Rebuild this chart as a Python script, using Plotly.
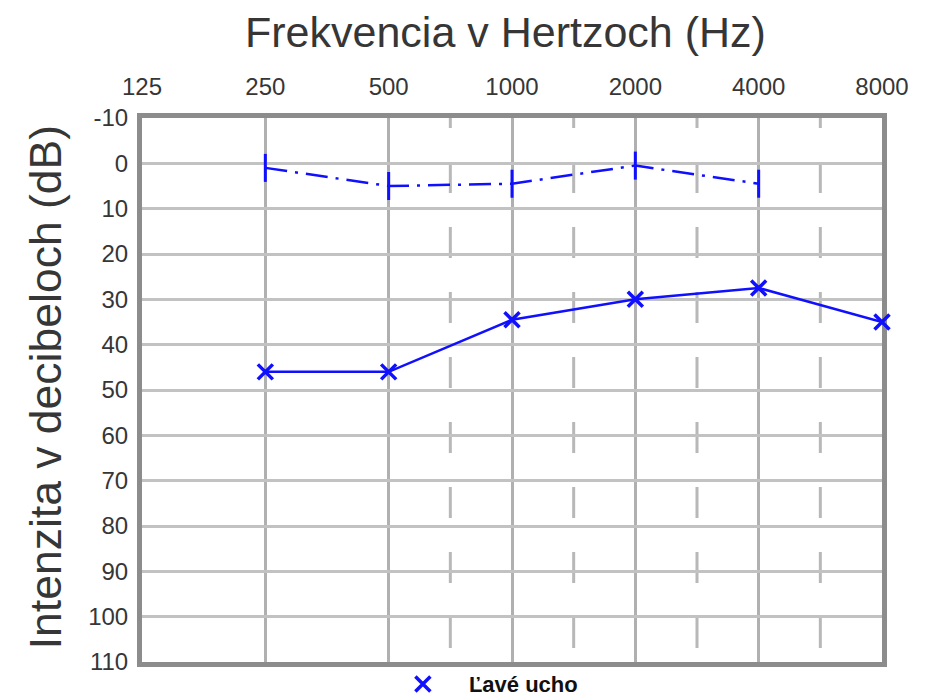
import plotly.graph_objects as go

# ---- data ----
freq_labels = ["125", "250", "500", "1000", "2000", "4000", "8000"]
db_ticks = [-10, 0, 10, 20, 30, 40, 50, 60, 70, 80, 90, 100, 110]

left_freqs = ["250", "500", "1000", "2000", "4000", "8000"]
left_db = [46, 46, 34.5, 30, 27.5, 35]

bone_freqs = ["250", "500", "1000", "2000", "4000"]
bone_db = [1, 5, 4.5, 0.5, 4.5]

half_octave_between = [("500", "1000"), ("1000", "2000"), ("2000", "4000"), ("4000", "8000")]

legend_name = "Ľavé ucho"
x_title = "Frekvencia v Hertzoch (Hz)"
y_title = "Intenzita v decibeloch (dB)"

pos = {f: i for i, f in enumerate(freq_labels)}
BLUE = "#1010ff"
TEXT = "#363636"

fig = go.Figure()

# dash-dot series with vertical bar markers
fig.add_trace(go.Scatter(
    x=[pos[f] for f in bone_freqs], y=bone_db,
    mode="lines+markers",
    line=dict(color=BLUE, width=2.5, dash="22px,8px,3px,8px"),
    marker=dict(symbol="line-ns", size=20, line=dict(color=BLUE, width=3)),
    showlegend=False, cliponaxis=False,
))

# solid series with X markers
fig.add_trace(go.Scatter(
    x=[pos[f] for f in left_freqs], y=left_db,
    mode="lines+markers",
    line=dict(color=BLUE, width=2.5),
    marker=dict(symbol="x-thin", size=15, line=dict(color=BLUE, width=3.5)),
    showlegend=False, cliponaxis=False,
))

# legend entry (marker only)
fig.add_trace(go.Scatter(
    x=[None], y=[None], mode="markers", name=legend_name,
    marker=dict(symbol="x-thin", size=15, line=dict(color=BLUE, width=3.5)),
    showlegend=True,
))

# dashed half-octave grid lines
for a, b in half_octave_between:
    xm = (pos[a] + pos[b]) / 2
    fig.add_shape(type="line", xref="x", yref="paper", x0=xm, x1=xm, y0=1, y1=0,
                  line=dict(color="#b8b8b8", width=3, dash="10px,34px,21px,0px"),
                  layer="below")

fig.add_annotation(text=x_title, xref="paper", yref="paper", x=0.491, y=1.158,
                   xanchor="center", yanchor="middle", showarrow=False,
                   font=dict(size=43, color=TEXT))
fig.add_annotation(text=y_title, xref="paper", yref="paper", x=-0.131, y=0.505,
                   xanchor="center", yanchor="middle", showarrow=False, textangle=-90,
                   font=dict(size=44.5, color=TEXT))

fig.update_layout(
    width=942, height=697,
    margin=dict(l=134, r=68, t=110, b=43, autoexpand=False),
    paper_bgcolor="white", plot_bgcolor="white",
    font=dict(family="Liberation Sans, Arial, sans-serif", color=TEXT),
    legend=dict(orientation="h", xref="container", yref="container",
                x=0.3916, xanchor="left", y=0.030, yanchor="middle",
                font=dict(family="Liberation Sans, Arial", size=22,
                          color="#111111", weight="bold"),
                bgcolor="rgba(0,0,0,0)", itemwidth=82),
    showlegend=True,
)

fig.update_xaxes(
    side="top", range=[0, len(freq_labels) - 1],
    tickmode="array", tickvals=list(range(len(freq_labels))), ticktext=freq_labels,
    tickfont=dict(size=24, color=TEXT),
    ticks="outside", ticklen=8, tickcolor="rgba(0,0,0,0)",
    showgrid=True, gridcolor="#b0b0b0", gridwidth=3,
    showline=True, mirror=True, linecolor="#8c8c8c", linewidth=5,
    zeroline=False, layer="below traces", automargin=False,
)

fig.update_yaxes(
    range=[db_ticks[-1], db_ticks[0]],
    tickmode="array", tickvals=db_ticks, ticktext=[str(v) for v in db_ticks],
    tickfont=dict(size=24, color=TEXT),
    ticks="outside", ticklen=4, tickcolor="rgba(0,0,0,0)",
    showgrid=True, gridcolor="#c2c2c2", gridwidth=3,
    showline=True, mirror=True, linecolor="#8c8c8c", linewidth=5,
    zeroline=False, layer="below traces", automargin=False,
)

fig.write_html("out.html")
